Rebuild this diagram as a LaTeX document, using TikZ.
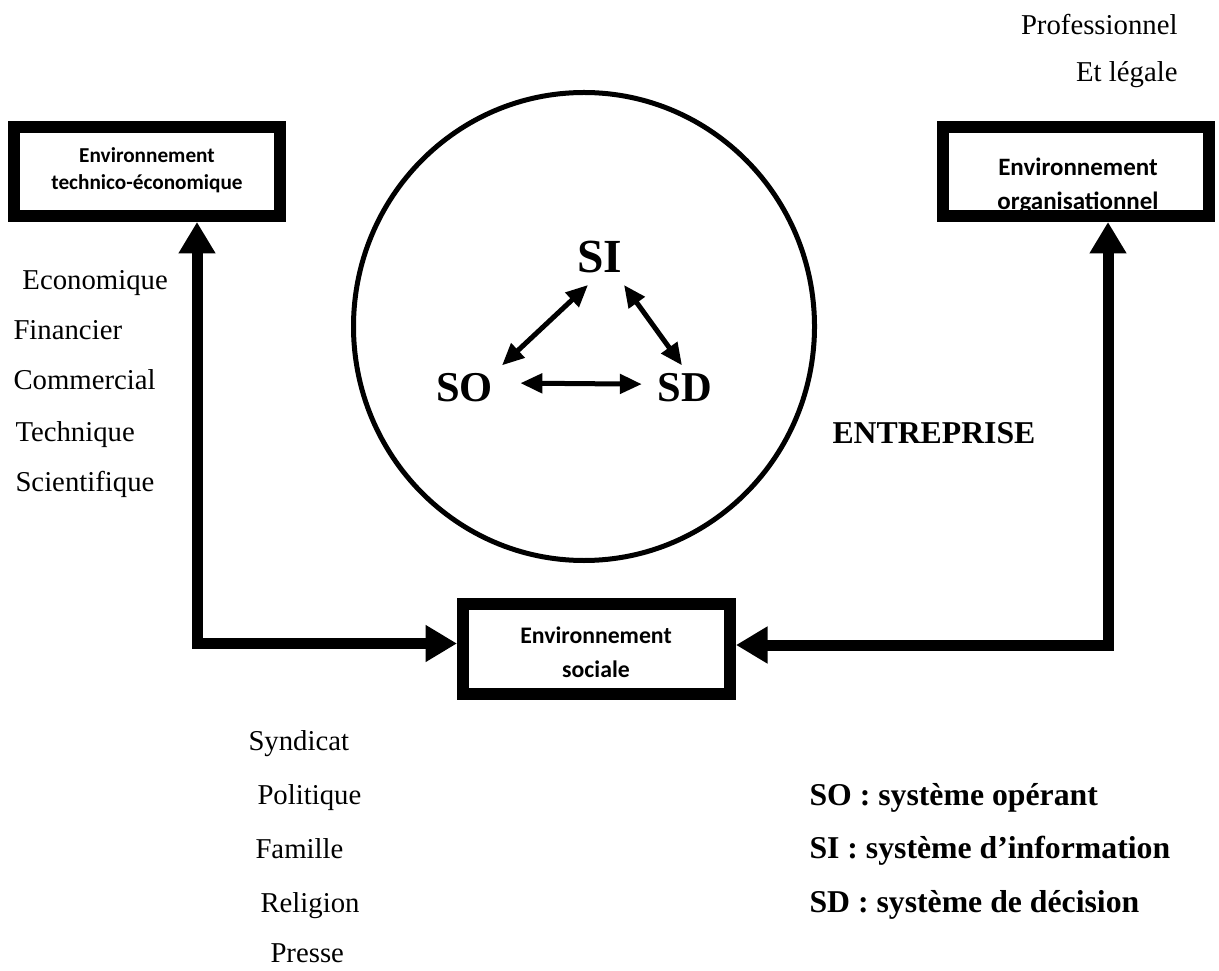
\documentclass[tikz,border=0pt]{standalone}
\usepackage{fontspec}
\setmainfont{Liberation Serif}
\newfontfamily\calibrifont{Carlito}
\usetikzlibrary{arrows.meta,shapes.geometric,calc}

\begin{document}
\begin{tikzpicture}[x=0.4pt,y=-0.4pt,
  envbox/.style={draw, line width=4.8pt, fill=white, outer sep=0pt, inner sep=0pt,
                 minimum width=106.4pt, minimum height=35.6pt},
  boxtxt/.style={anchor=base, inner sep=0pt, font=\calibrifont\bfseries\fontsize{#1}{#1}\selectfont},
  bodytxt/.style={anchor=base west, inner sep=0pt, font=\fontsize{11.5}{13}\selectfont},
  bodytxtr/.style={anchor=base east, inner sep=0pt, font=\fontsize{11.5}{13}\selectfont},
  legendtxt/.style={anchor=base west, inner sep=0pt, font=\bfseries\fontsize{12.7}{15}\selectfont},
  systxt/.style={anchor=base, inner sep=0pt, font=\bfseries\fontsize{#1}{#1}\selectfont},
  envlink/.style={line width=4.4pt, shorten <=2.4pt, shorten >=2.4pt,
                  {Triangle[length=12.6pt,width=14pt]}-{Triangle[length=12.6pt,width=14pt]}},
  sysflow/.style={line width=2pt,
                  {Triangle[length=8.8pt,width=7.6pt]}-{Triangle[length=8.8pt,width=7.6pt]}},
]
\useasboundingbox (0,0) rectangle (1219,971);

% top-right caption
\node[bodytxtr] (prof) at (1178,35) {Professionnel};
\node[bodytxtr] (legale) at (1178,82) {Et légale};

% the enterprise
\node[draw, line width=2pt, ellipse, inner sep=0pt,
      minimum width=184.4pt, minimum height=187.2pt] (ent) at (584,326.5) {};
\node[systxt=19] (SI) at (600,273) {SI};
\node[systxt=17] (SO) at (464.5,402) {SO};
\node[systxt=17] (SD) at (685,402) {SD};
\draw[sysflow] ($(SI.south)+(-12,11)$) -- ($(SO.north)+(37.5,-8)$);
\draw[sysflow] ($(SI.south)+(24,11)$) -- ($(SD.north)+(-3,-8)$);
\draw[sysflow] ($(SO.east)+(27,-5)$) -- ($(SD.west)+(-15.5,-4)$);
\node[anchor=base west, inner sep=0pt, font=\bfseries\fontsize{12.7}{15}\selectfont] (entlabel) at (832,443) {ENTREPRISE};

% environment boxes
\node[envbox] (lbox) at (147,171.5) {};
\node[boxtxt=8.5] (ltxt1) at (147,163) {Environnement};
\node[boxtxt=8.5] (ltxt2) at (147,190) {technico-économique};

% the second line sits under the lower border
\node[envbox] (rbox) at (1076,171.5) {};
\node[boxtxt=10] (rtxt1) at (1078,176) {Environnement};
\node[boxtxt=10] (rtxt2) at (1078,210) {organisationnel};
\draw[line width=4.8pt] (rbox.south west) rectangle (rbox.north east);

\node[envbox, minimum width=106.8pt, minimum height=36pt] (sbox) at (596.5,649) {};
\node[boxtxt=9.5] (stxt1) at (596,643) {Environnement};
\node[boxtxt=9.5] (stxt2) at (596,677) {sociale};

% links between the environments
\coordinate (lc) at (197,643.5);
\draw[envlink] (lc |- lbox.south) -- (lc) -- (lc -| sbox.west);
\coordinate (rc) at (1108,645);
\draw[envlink] (rc |- rbox.south) -- (rc) -- (rc -| sbox.east);

% technico-economic factors
\node[bodytxt] (eco) at (22,290) {Economique};
\node[bodytxt] (fin) at (13,340) {Financier};
\node[bodytxt] (com) at (13,390) {Commercial};
\node[bodytxt] (tec) at (15,441) {Technique};
\node[bodytxt] (sci) at (15,492) {Scientifique};

% social factors
\node[bodytxt] (syn) at (248,750) {Syndicat};
\node[bodytxt] (pol) at (257,804) {Politique};
\node[bodytxt] (fam) at (255,858) {Famille};
\node[bodytxt] (rel) at (260,912) {Religion};
\node[bodytxt] (pre) at (270,962) {Presse};

% legend
\node[legendtxt] (lgso) at (809,805) {SO : système opérant};
\node[legendtxt] (lgsi) at (809,858) {SI : système d’information};
\node[legendtxt] (lgsd) at (809,912) {SD : système de décision};
\end{tikzpicture}
\end{document}
